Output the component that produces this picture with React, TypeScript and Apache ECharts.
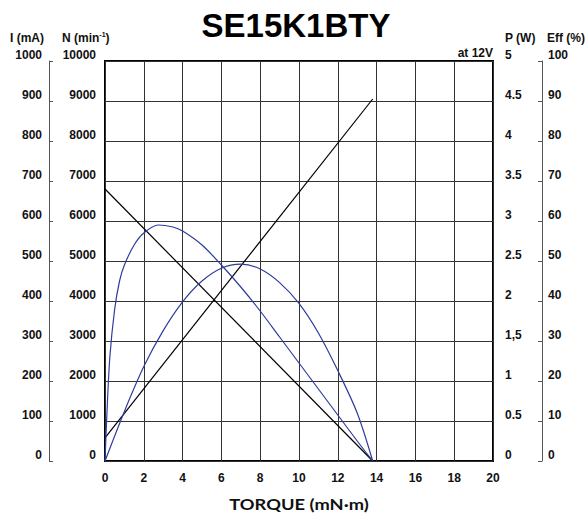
import React, { useEffect, useRef } from "react";
import * as echarts from "echarts";

const torqueTicks = ["0", "2", "4", "6", "8", "10", "12", "14", "16", "18", "20"];
const currentTicks = ["0", "100", "200", "300", "400", "500", "600", "700", "800", "900", "1000"];
const speedTicks = ["0", "1000", "2000", "3000", "4000", "5000", "6000", "7000", "8000", "9000", "10000"];
const powerTicks = ["0", "0.5", "1", "1,5", "2", "2.5", "3", "3.5", "4", "4.5", "5"];
const effTicks = ["0", "10", "20", "30", "40", "50", "60", "70", "80", "90", "100"];

// Straight lines (torque mN·m)
const speedTorque = [0, 13.8];
const speedValues = [6800, 0];
const currentTorque = [0, 13.8];
const currentValues = [58, 905];

// Curves
const effTorque = [0, 0.1, 0.25, 0.5, 0.75, 1, 1.5, 2, 2.75, 3.5, 4, 5, 6, 7, 8, 9, 10, 11, 12, 13, 13.8];
const effValues = [0, 12, 26, 38, 45, 49, 54, 57, 59, 58.5, 57.5, 54, 49, 43.5, 37.5, 31, 24.5, 18, 11.5, 5, 0];
const powerTorque = [0, 1, 2, 3, 4, 5, 6, 7, 8, 9, 10, 11, 12, 13, 13.8];
const powerValues = [0, 0.62, 1.18, 1.63, 1.99, 2.25, 2.41, 2.46, 2.4, 2.23, 1.97, 1.6, 1.13, 0.6, 0];

const FONT = "'Liberation Sans', Arial, Helvetica, sans-serif";
const BLUE = "#2e3c9c";

function zip(xs: number[], ys: number[]) {
  return xs.map((x, i) => [x, ys[i]]);
}

function tickFmt(ticks: string[], max: number) {
  return (v: number) => {
    const idx = Math.round((v / max) * (ticks.length - 1));
    return ticks[idx] ?? "";
  };
}

const labelBase = {
  fontFamily: FONT,
  fontWeight: "bold" as const,
  fontSize: 12,
  color: "#111",
};

export default function App() {
  const ref = useRef<HTMLDivElement>(null);
  useEffect(() => {
    if (!ref.current) return;
    const chart = echarts.init(ref.current, undefined, { renderer: "svg" });
    chart.setOption({
      animation: false,
      backgroundColor: "#fff",
      grid: {
        left: 105,
        right: 94,
        top: 61,
        bottom: 54,
        show: true,
        borderColor: "#000",
        borderWidth: 2,
        backgroundColor: "transparent",
      },
      xAxis: {
        type: "value",
        min: 0,
        max: 20,
        interval: 2,
        axisLine: { show: false },
        axisTick: { show: false },
        splitLine: { show: true, lineStyle: { color: "#333", width: 1 } },
        axisLabel: { ...labelBase, margin: 11, formatter: tickFmt(torqueTicks, 20) },
      },
      yAxis: [
        {
          type: "value",
          position: "left",
          offset: 56,
          min: 0,
          max: 1000,
          interval: 100,
          axisLine: { show: true, onZero: false, lineStyle: { color: "#555", width: 1 } },
          axisTick: { show: true, inside: true, length: 4, lineStyle: { color: "#555" } },
          splitLine: { show: false },
          axisLabel: { ...labelBase, margin: 7, verticalAlign: "bottom", formatter: tickFmt(currentTicks, 1000) },
        },
        {
          type: "value",
          position: "left",
          offset: 0,
          min: 0,
          max: 10000,
          interval: 1000,
          axisLine: { show: false },
          axisTick: { show: false },
          splitLine: { show: true, lineStyle: { color: "#333", width: 1 } },
          axisLabel: { ...labelBase, margin: 9, verticalAlign: "bottom", formatter: tickFmt(speedTicks, 10000) },
        },
        {
          type: "value",
          position: "right",
          offset: 0,
          min: 0,
          max: 5,
          interval: 0.5,
          axisLine: { show: false },
          axisTick: { show: false },
          splitLine: { show: false },
          axisLabel: { ...labelBase, margin: 12, verticalAlign: "bottom", formatter: tickFmt(powerTicks, 5) },
        },
        {
          type: "value",
          position: "right",
          offset: 49,
          min: 0,
          max: 100,
          interval: 10,
          axisLine: { show: true, onZero: false, lineStyle: { color: "#555", width: 1 } },
          axisTick: { show: true, inside: true, length: 4, lineStyle: { color: "#555" } },
          splitLine: { show: false },
          axisLabel: { ...labelBase, margin: 6, verticalAlign: "bottom", formatter: tickFmt(effTicks, 100) },
        },
      ],
      series: [
        {
          name: "N",
          type: "line",
          yAxisIndex: 1,
          data: zip(speedTorque, speedValues),
          symbol: "none",
          lineStyle: { color: "#000", width: 1.2 },
        },
        {
          name: "I",
          type: "line",
          yAxisIndex: 0,
          data: zip(currentTorque, currentValues),
          symbol: "none",
          lineStyle: { color: "#000", width: 1.2 },
        },
        {
          name: "Eff",
          type: "line",
          yAxisIndex: 3,
          data: zip(effTorque, effValues),
          symbol: "none",
          smooth: 0.3,
          lineStyle: { color: BLUE, width: 1.2 },
        },
        {
          name: "P",
          type: "line",
          yAxisIndex: 2,
          data: zip(powerTorque, powerValues),
          symbol: "none",
          smooth: 0.3,
          lineStyle: { color: BLUE, width: 1.2 },
        },
      ],
      graphic: [
        {
          type: "text",
          x: 296,
          y: 25,
          style: {
            text: "SE15K1BTY",
            font: `bold 33px ${FONT}`,
            fill: "#000",
            align: "center",
            verticalAlign: "middle",
          },
        },
        {
          type: "text",
          x: 27,
          y: 38,
          style: { text: "I (mA)", font: `bold 12px ${FONT}`, fill: "#111", align: "center", verticalAlign: "middle" },
        },
        {
          type: "text",
          x: 62,
          y: 38,
          style: {
            text: "{a|N (min}{s|-1}{a|)}",
            align: "left",
            verticalAlign: "middle",
            rich: {
              a: { font: `bold 12px ${FONT}`, fill: "#111", lineHeight: 14, verticalAlign: "middle" },
              s: { font: `bold 7px ${FONT}`, fill: "#111", lineHeight: 14, verticalAlign: "top" },
            },
          },
        },
        {
          type: "text",
          x: 505,
          y: 38,
          style: { text: "P (W)", font: `bold 12px ${FONT}`, fill: "#111", align: "left", verticalAlign: "middle" },
        },
        {
          type: "text",
          x: 547,
          y: 38,
          style: { text: "Eff (%)", font: `bold 12px ${FONT}`, fill: "#111", align: "left", verticalAlign: "middle" },
        },
        {
          type: "text",
          x: 493,
          y: 53,
          style: { text: "at 12V", font: `bold 12px ${FONT}`, fill: "#111", align: "right", verticalAlign: "middle" },
        },
        {
          type: "text",
          x: 299,
          y: 504,
          scaleX: 1.22,
          style: {
            text: "TORQUE (mN·m)",
            font: `bold 15px Lato, 'Open Sans', sans-serif`,
            fill: "#111",
            align: "center",
            verticalAlign: "middle",
          },
        },
      ],
    });
    return () => chart.dispose();
  }, []);
  return (
    <div
      ref={ref}
      style={{ position: "fixed", left: 0, top: 0, width: 587, height: 515, background: "#fff" }}
    />
  );
}
